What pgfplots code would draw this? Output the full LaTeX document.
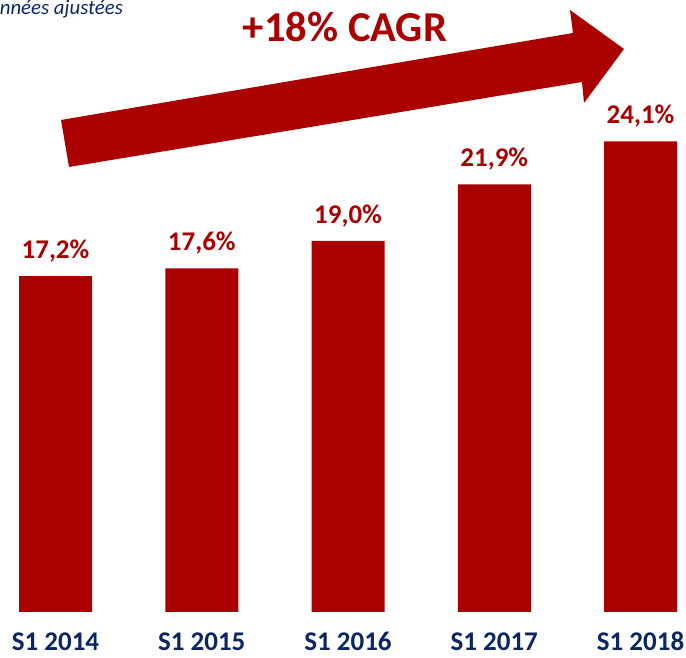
\documentclass[border=0pt]{standalone}
\usepackage{pgfplots}
\pgfplotsset{compat=1.18}
\usepackage{fontspec}
\setmainfont{Carlito}
\definecolor{barred}{RGB}{170,0,0}
\definecolor{navy}{RGB}{12,38,100}
\begin{document}
\begin{tikzpicture}
\useasboundingbox (0,0) rectangle (343pt,329pt);
\clip (0,0) rectangle (343pt,329pt);
\begin{axis}[
  at={(0pt,23pt)}, anchor=south west,
  scale only axis, width=343pt, height=306pt,
  xmin=-0.3795, xmax=4.311, ymin=0, ymax=31.34,
  axis line style={draw=none},
  ytick=\empty,
  xtick={0,1,2,3,4},
  xticklabels={S1 2014,S1 2015,S1 2016,S1 2017,S1 2018},
  major tick length=0pt,
  xticklabel style={anchor=base, yshift=-19.5pt, text=navy, font=\fontsize{13.5}{16}\selectfont\bfseries},
  ybar, bar width=36.5pt,
  clip=false,
  /pgf/number format/assume math mode=true,
  nodes near coords={\pgfmathprintnumber[fixed,precision=1,fixed zerofill,use comma,assume math mode=true]{\pgfplotspointmeta}\%},
  every node near coord/.append style={anchor=base, yshift=8.75pt, text=barred, font=\fontsize{13.5}{16}\selectfont\bfseries},
]
\addplot[fill=barred, draw=none] coordinates {(0,17.2) (1,17.6) (2,19.0) (3,21.9) (4,24.1)};
\end{axis}
\fill[barred] (30.5pt,269pt) -- (286.5pt,312.5pt) -- (285pt,324pt) -- (312pt,304.5pt) -- (292pt,277.5pt) -- (291pt,288pt) -- (34.5pt,245.5pt) -- cycle;
\node[anchor=base, text=barred, font=\fontsize{21.3}{25}\selectfont\bfseries] at (172.5pt,308pt) {+18\% CAGR};
\node[anchor=base west, inner sep=0pt, text=navy, font=\fontsize{10.4}{12}\selectfont\itshape] at (-12pt,321.5pt) {Données ajustées};
\end{tikzpicture}
\end{document}
